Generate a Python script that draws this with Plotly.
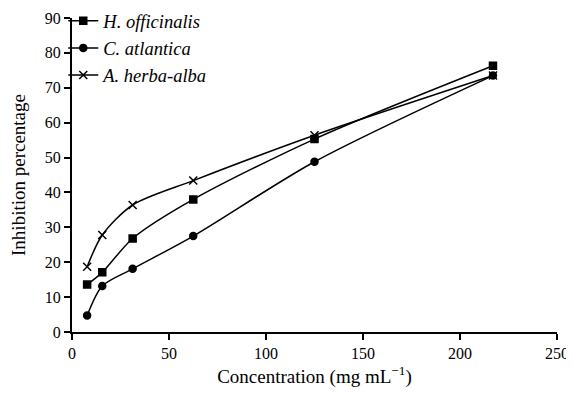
import plotly.graph_objects as go

concentration = [7.8, 15.6, 31.25, 62.5, 125, 217]
h_officinalis = [13.6, 17.1, 26.8, 38.0, 55.3, 76.3]
c_atlantica = [4.7, 13.2, 18.1, 27.5, 48.8, 73.5]
a_herba_alba = [18.7, 27.8, 36.4, 43.4, 56.4, 73.5]

series = [
    ("<i>H. officinalis</i>", h_officinalis, "square"),
    ("<i>C. atlantica</i>", c_atlantica, "circle"),
    ("<i>A. herba-alba</i>", a_herba_alba, "x-thin"),
]

fig = go.Figure()
for name, vals, sym in series:
    fig.add_trace(go.Scatter(
        x=concentration, y=vals, name=name, mode="lines+markers",
        line=dict(color="black", width=1.5, shape="spline", smoothing=0.8),
        marker=dict(symbol=sym, size=7 if sym != "x-thin" else 8, color="black",
                    line=dict(color="black", width=1.5)),
    ))

font = dict(family="Liberation Serif, Times New Roman, serif", size=16, color="black")
# page body has an 8px default margin: size the figure so the page does not scroll
fig.update_layout(
    width=566, height=380,
    margin=dict(l=64, r=17, t=10, b=56, autoexpand=False),
    paper_bgcolor="white", plot_bgcolor="white",
    font=font,
    showlegend=True,
    legend=dict(x=-0.018, y=1.05, xanchor="left", yanchor="top",
                font=dict(family="Liberation Serif, serif", size=18.5, color="black"),
                itemwidth=30, tracegroupgap=0, bgcolor="rgba(0,0,0,0)"),
    xaxis=dict(range=[0, 250], tickvals=[0, 50, 100, 150, 200, 250],
               showline=True, linecolor="black", linewidth=2,
               ticks="outside", ticklen=6, tickwidth=2, tickcolor="black",
               showgrid=False, zeroline=False, automargin=False,
               title=dict(text="Concentration (mg mL<sup>−1</sup>)", standoff=14),
               tickfont=font),
    yaxis=dict(range=[0, 90], tickvals=list(range(0, 91, 10)),
               showline=True, linecolor="black", linewidth=2,
               ticks="outside", ticklen=6, tickwidth=2, tickcolor="black",
               showgrid=False, zeroline=False, automargin=False,
               title=dict(text="Inhibition percentage", standoff=14),
               tickfont=font),
)
fig.write_html("out.html")
